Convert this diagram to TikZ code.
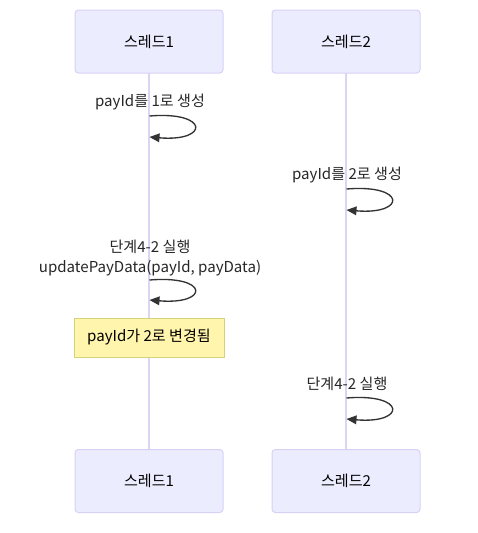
\documentclass[tikz,border=0pt]{standalone}
\usepackage{fontspec}
\setmainfont{Noto Sans CJK KR}
\usetikzlibrary{arrows.meta}
\definecolor{actfill}{HTML}{ECECFF}
\definecolor{actdraw}{HTML}{D9D0F5}
\definecolor{lifeline}{HTML}{DCD3F5}
\definecolor{notefill}{HTML}{FFF5AD}
\definecolor{notedraw}{HTML}{D6D27A}
\definecolor{msg}{HTML}{333333}
\tikzset{
  actor/.style={draw=actdraw, fill=actfill, rounded corners=2.5pt, minimum width=148*0.75pt, minimum height=63*0.75pt, inner sep=0pt, font=\fontsize{11.3}{13}\selectfont, line width=0.75pt},
  notebox/.style={draw=notedraw, fill=notefill, minimum width=150*0.75pt, minimum height=39*0.75pt, inner sep=0pt, font=\fontsize{11.3}{13}\selectfont, line width=0.75pt},
  life/.style={draw=lifeline, line width=1.5pt},
  selfmsg/.style={draw=msg, line width=1pt, -{Triangle[length=7.5pt,width=6.5pt]}},
  lbl/.style={font=\fontsize{11.3}{13}\selectfont, inner sep=0pt, align=center, text=black!85}
}
\begin{document}
\begin{tikzpicture}[x=0.75pt,y=-0.75pt]
\useasboundingbox (0,0) rectangle (478,533);
% lifelines
\coordinate (l1t) at (149,73);
\coordinate (l1b) at (149,449);
\coordinate (l2t) at (346,73);
\coordinate (l2b) at (346,449);
\draw[life] (l1t) -- (l1b);
\draw[life] (l2t) -- (l2b);
% actors
\node[actor] (a1) at (149,41.5) {스레드1};
\node[actor] (a2) at (346,41.5) {스레드2};
\node[actor] (b1) at (149,481) {스레드1};
\node[actor] (b2) at (346,481) {스레드2};
% messages
\node[lbl] (m1) at (150,102) {payId를 1로 생성};
\coordinate (m1s) at (149.5,116);
\coordinate (m1e) at (149.5,137);
\draw[selfmsg] (m1s) .. controls +(60,-5) and +(60,5) .. (m1e);

\node[lbl] (m2) at (347,175) {payId를 2로 생성};
\coordinate (m2s) at (346.5,189);
\coordinate (m2e) at (346.5,210);
\draw[selfmsg] (m2s) .. controls +(60,-5) and +(60,5) .. (m2e);

\node[lbl] (m3a) at (150,247) {단계4-2 실행};
\node[lbl] (m3b) at (150,268) {updatePayData(payId, payData)};
\coordinate (m3s) at (149.5,280);
\coordinate (m3e) at (149.5,300);
\draw[selfmsg] (m3s) .. controls +(60,-5) and +(60,5) .. (m3e);

\node[notebox] (n1) at (149,337.5) {payId가 2로 변경됨};

\node[lbl] (m4) at (347,384) {단계4-2 실행};
\coordinate (m4s) at (346.5,398);
\coordinate (m4e) at (346.5,419);
\draw[selfmsg] (m4s) .. controls +(60,-5) and +(60,5) .. (m4e);
\end{tikzpicture}
\end{document}
